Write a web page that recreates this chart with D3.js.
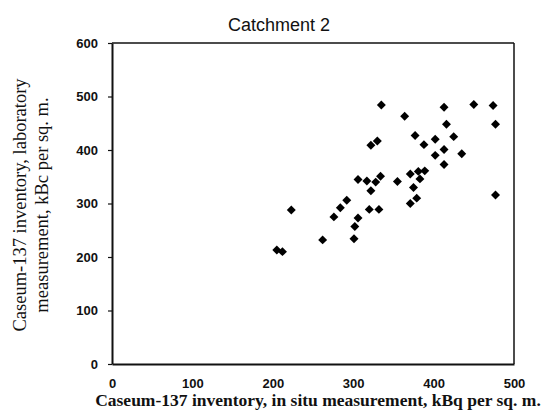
<!DOCTYPE html>
<html><head><meta charset="utf-8">
<script src="https://cdn.jsdelivr.net/npm/d3@7"></script>
<style>body{margin:0;background:#fff}svg{display:block}</style>
</head><body>
<script>
const inSitu = [205,212,223,262,276,284,292,301,302,306,306,317,320,322,322,328,332,330,334,335,355,364,371,371,375,379,377,381,383,388,389,402,402,413,413,413,416,425,435,450,474,477,477];
const laboratory = [213,210,288,232,275,292,306,234,257,273,345,342,289,324,409,340,289,417,351,484,341,463,300,355,330,310,427,360,346,410,361,420,390,480,401,373,448,425,393,485,483,448,316];
const xTicks = [0,100,200,300,400,500];
const yTicks = [0,100,200,300,400,500,600];
const title = "Catchment 2";
const xLabel = "Caseum-137 inventory, in situ measurement, kBq per sq. m.";
const yLabel1 = "Caseum-137 inventory, laboratory";
const yLabel2 = "measurement, kBc per sq. m.";

const W=544,H=412;
const svg=d3.select("body").append("svg").attr("width",W).attr("height",H);
const x=d3.scaleLinear().domain([0,500]).range([112,514]);
const y=d3.scaleLinear().domain([0,600]).range([364,43]);

// frame
svg.append("line").attr("x1",x(0)).attr("x2",x(500)).attr("y1",y(600)).attr("y2",y(600)).attr("stroke","#111").attr("stroke-width",1.5);
svg.append("line").attr("x1",x(500)).attr("x2",x(500)).attr("y1",y(600)).attr("y2",y(0)).attr("stroke","#111").attr("stroke-width",1.5);

const yAxis=svg.append("g").attr("transform",`translate(${x(0)},0)`)
  .call(d3.axisLeft(y).tickValues(yTicks).tickSize(4).tickSizeOuter(0).tickPadding(10));
yAxis.select(".domain").attr("stroke","#111").attr("stroke-width",2);
yAxis.selectAll(".tick line").attr("stroke","#111").attr("stroke-width",1.2);
yAxis.selectAll("text").attr("font-family","Liberation Sans, Arial, sans-serif").attr("font-weight","bold").attr("font-size",13).attr("fill","#111");

const xAxis=svg.append("g").attr("transform",`translate(0,${y(0)})`)
  .call(d3.axisBottom(x).tickValues(xTicks).tickSize(0).tickSizeOuter(0).tickPadding(15));
xAxis.select(".domain").attr("stroke","#111").attr("stroke-width",2);
xAxis.selectAll("text").attr("font-family","Liberation Sans, Arial, sans-serif").attr("font-weight","bold").attr("font-size",13).attr("fill","#111");

// points
const pts=d3.range(inSitu.length).map(i=>({x:inSitu[i],y:laboratory[i]}));
svg.append("g").selectAll("path").data(pts).join("path")
  .attr("d",d3.symbol(d3.symbolSquare,40))
  .attr("transform",d=>`translate(${x(d.x)},${y(d.y)}) rotate(45)`)
  .attr("fill","#000");

svg.append("text").attr("x",279).attr("y",31).attr("text-anchor","middle")
  .attr("font-family","Liberation Sans, Arial, sans-serif").attr("font-size",18).attr("fill","#111").text(title);

svg.append("text").attr("x",318).attr("y",406).attr("text-anchor","middle")
  .attr("font-family","Liberation Serif, Times New Roman, serif").attr("font-weight","bold").attr("font-size",17.5).attr("fill","#111").text(xLabel);

svg.append("text").attr("transform","translate(26,205) rotate(-90)").attr("text-anchor","middle")
  .attr("font-family","Liberation Serif, Times New Roman, serif").attr("font-size",18.5).attr("fill","#111").text(yLabel1);
svg.append("text").attr("transform","translate(48,205) rotate(-90)").attr("text-anchor","middle")
  .attr("font-family","Liberation Serif, Times New Roman, serif").attr("font-size",18.5).attr("fill","#111").text(yLabel2);
</script>
</body></html>
